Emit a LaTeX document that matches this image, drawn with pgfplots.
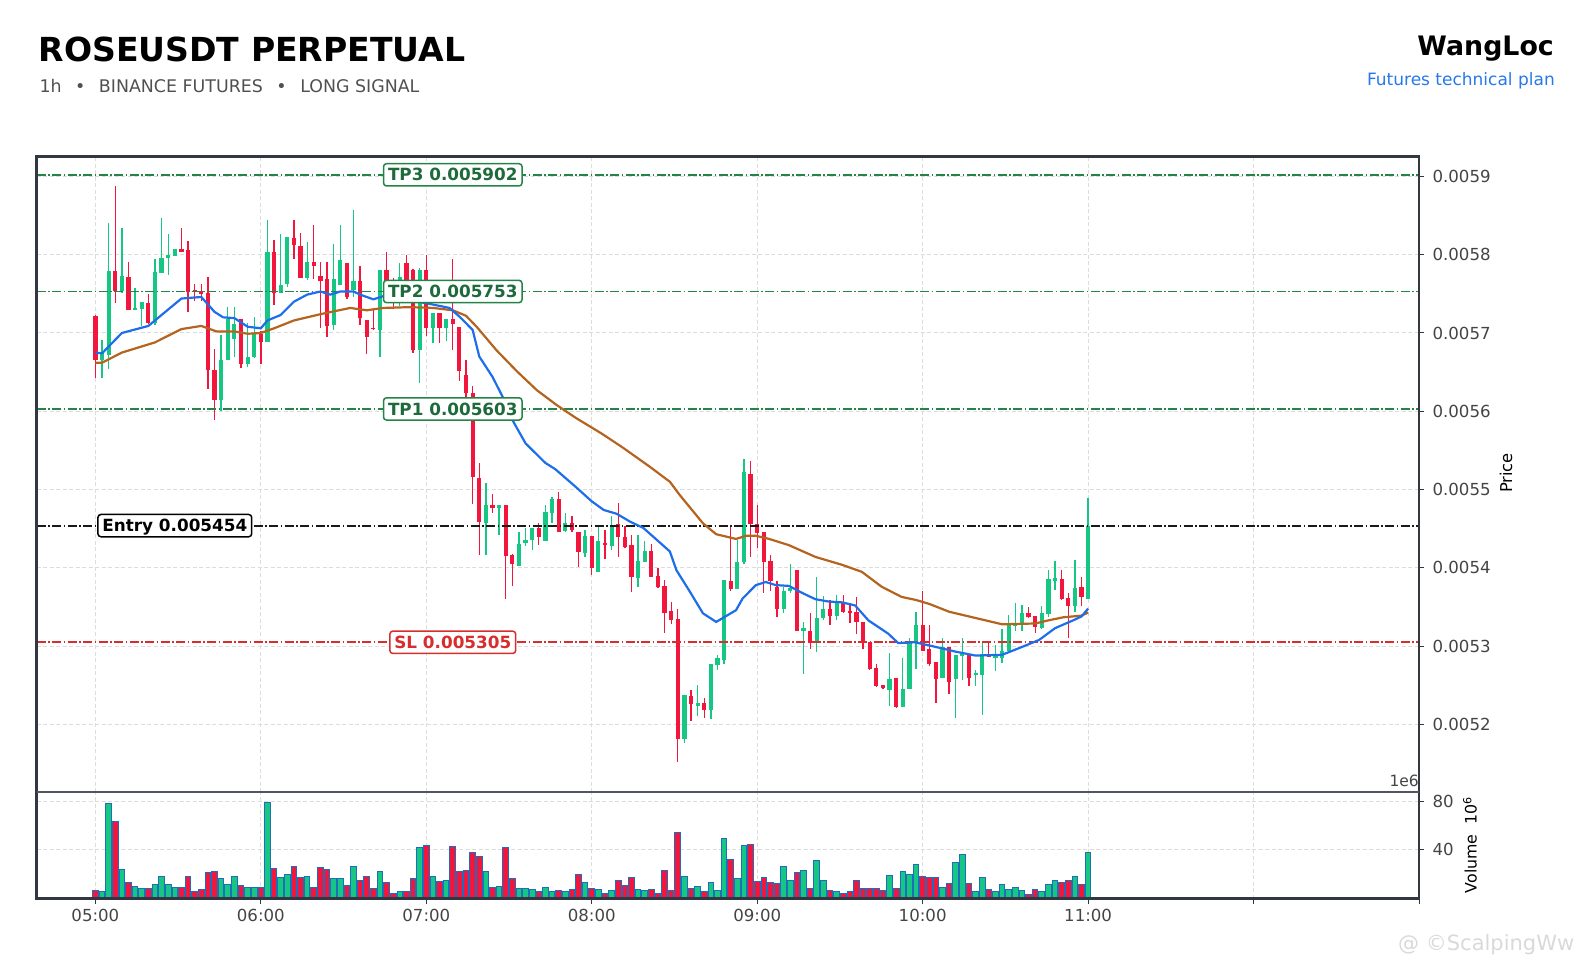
\documentclass[border=0pt]{standalone}
\usepackage{fontspec}
\setmainfont{DejaVu Sans}
\usepackage{pgfplots}
\usepackage{pgfplotstable}
\pgfplotsset{compat=1.18}
\definecolor{upc}{RGB}{22,199,132}
\definecolor{dnc}{RGB}{242,22,60}
\definecolor{voledge}{RGB}{31,110,190}
\definecolor{emaf}{RGB}{30,110,235}
\definecolor{emas}{RGB}{180,100,30}
\definecolor{tpc}{RGB}{36,132,72}
\definecolor{slc}{RGB}{215,45,45}
\definecolor{framec}{RGB}{50,55,65}
\definecolor{tickgray}{RGB}{68,68,68}
\definecolor{gridc}{RGB}{220,220,220}
\definecolor{subgray}{RGB}{80,80,80}
\definecolor{bluelink}{RGB}{38,120,235}

\pgfplotstableread{
i o h l c v up
0 0.005722 0.005723 0.005642 0.005666 6.8 0
1 0.005666 0.005691 0.005643 0.005675 5.4 1
2 0.005672 0.005840 0.005654 0.005779 78.1 1
3 0.005779 0.005888 0.005739 0.005754 63.4 0
4 0.005754 0.005834 0.005751 0.005773 24.2 1
5 0.005771 0.005791 0.005729 0.005729 12.8 0
6 0.005730 0.005757 0.005729 0.005732 9.5 1
7 0.005731 0.005740 0.005709 0.005740 7.9 1
8 0.005738 0.005750 0.005712 0.005713 7.9 0
9 0.005713 0.005795 0.005710 0.005778 11.2 1
10 0.005776 0.005847 0.005776 0.005796 17.7 1
11 0.005796 0.005827 0.005774 0.005800 11.2 1
12 0.005799 0.005807 0.005799 0.005807 8.7 1
13 0.005807 0.005834 0.005804 0.005804 8.7 0
14 0.005806 0.005818 0.005727 0.005752 17.7 0
15 0.005755 0.005762 0.005741 0.005753 5.4 0
16 0.005753 0.005762 0.005741 0.005750 7.1 0
17 0.005751 0.005771 0.005628 0.005653 21.0 0
18 0.005653 0.005679 0.005589 0.005615 22.6 0
19 0.005614 0.005698 0.005601 0.005666 16.1 1
20 0.005665 0.005733 0.005665 0.005718 11.2 1
21 0.005693 0.005733 0.005670 0.005712 17.7 1
22 0.005718 0.005718 0.005655 0.005660 10.3 0
23 0.005660 0.005713 0.005657 0.005669 8.7 1
24 0.005669 0.005721 0.005668 0.005700 8.7 1
25 0.005699 0.005702 0.005660 0.005689 8.7 0
26 0.005688 0.005844 0.005688 0.005803 78.9 1
27 0.005804 0.005819 0.005736 0.005751 25.0 0
28 0.005751 0.005827 0.005751 0.005762 16.9 1
29 0.005762 0.005823 0.005759 0.005822 20.1 1
30 0.005821 0.005845 0.005795 0.005812 26.7 0
31 0.005811 0.005828 0.005770 0.005770 16.9 0
32 0.005770 0.005816 0.005768 0.005791 18.5 1
33 0.005791 0.005838 0.005769 0.005785 8.7 0
34 0.005773 0.005791 0.005706 0.005767 25.9 0
35 0.005769 0.005791 0.005695 0.005709 24.2 0
36 0.005710 0.005814 0.005704 0.005769 16.1 1
37 0.005761 0.005838 0.005761 0.005793 16.1 1
38 0.005790 0.005790 0.005744 0.005746 10.3 0
39 0.005755 0.005857 0.005746 0.005767 26.7 1
40 0.005767 0.005786 0.005710 0.005719 15.2 0
41 0.005717 0.005717 0.005673 0.005695 17.7 0
42 0.005707 0.005731 0.005704 0.005705 7.9 0
43 0.005704 0.005781 0.005670 0.005780 21.8 1
44 0.005781 0.005803 0.005746 0.005755 12.8 0
45 0.005755 0.005770 0.005730 0.005740 3.8 0
46 0.005740 0.005790 0.005735 0.005772 5.4 1
47 0.005790 0.005800 0.005745 0.005760 5.4 0
48 0.005780 0.005782 0.005674 0.005678 16.1 0
49 0.005678 0.005783 0.005636 0.005780 42.2 1
50 0.005780 0.005800 0.005696 0.005706 43.8 0
51 0.005706 0.005725 0.005687 0.005725 17.7 1
52 0.005725 0.005725 0.005687 0.005706 13.6 0
53 0.005706 0.005718 0.005690 0.005718 15.2 1
54 0.005718 0.005795 0.005678 0.005711 43.0 0
55 0.005708 0.005708 0.005639 0.005651 21.8 0
56 0.005646 0.005666 0.005610 0.005623 23.4 0
57 0.005623 0.005632 0.005482 0.005516 38.1 0
58 0.005515 0.005534 0.005417 0.005459 34.8 0
59 0.005458 0.005509 0.005417 0.005481 21.8 1
60 0.005481 0.005495 0.005470 0.005476 8.7 0
61 0.005476 0.005480 0.005442 0.005480 9.5 1
62 0.005480 0.005480 0.005360 0.005415 42.2 0
63 0.005417 0.005418 0.005377 0.005405 16.1 0
64 0.005402 0.005446 0.005402 0.005431 7.9 1
65 0.005432 0.005451 0.005428 0.005436 7.9 1
66 0.005436 0.005451 0.005423 0.005451 7.1 1
67 0.005451 0.005458 0.005429 0.005439 5.4 0
68 0.005434 0.005480 0.005434 0.005471 8.7 1
69 0.005470 0.005491 0.005457 0.005488 5.4 1
70 0.005488 0.005497 0.005446 0.005446 6.3 0
71 0.005447 0.005470 0.005446 0.005457 5.4 1
72 0.005457 0.005466 0.005446 0.005448 7.1 0
73 0.005446 0.005446 0.005401 0.005420 20.1 0
74 0.005419 0.005449 0.005414 0.005441 12.8 1
75 0.005441 0.005441 0.005391 0.005400 8.4 0
76 0.005395 0.005455 0.005395 0.005434 7.1 1
77 0.005431 0.005449 0.005412 0.005430 4.4 0
78 0.005428 0.005466 0.005423 0.005454 6.3 1
79 0.005456 0.005483 0.005414 0.005439 15.2 0
80 0.005439 0.005454 0.005425 0.005427 10.3 0
81 0.005429 0.005442 0.005369 0.005388 16.9 0
82 0.005387 0.005442 0.005376 0.005409 7.1 1
83 0.005408 0.005434 0.005408 0.005422 6.3 1
84 0.005422 0.005431 0.005388 0.005388 7.1 0
85 0.005390 0.005400 0.005375 0.005376 4.4 0
86 0.005377 0.005385 0.005317 0.005343 23.4 0
87 0.005345 0.005357 0.005329 0.005334 6.3 0
88 0.005335 0.005347 0.005152 0.005181 54.4 0
89 0.005181 0.005238 0.005177 0.005238 17.7 1
90 0.005237 0.005244 0.005205 0.005226 8.4 0
91 0.005224 0.005251 0.005211 0.005227 9.5 1
92 0.005227 0.005234 0.005209 0.005218 5.4 0
93 0.005218 0.005277 0.005207 0.005277 12.8 1
94 0.005276 0.005289 0.005270 0.005285 6.3 1
95 0.005282 0.005385 0.005278 0.005385 49.5 1
96 0.005383 0.005455 0.005371 0.005373 32.4 0
97 0.005373 0.005436 0.005373 0.005408 16.1 1
98 0.005408 0.005539 0.005405 0.005522 43.8 1
99 0.005520 0.005537 0.005414 0.005456 44.6 0
100 0.005456 0.005480 0.005426 0.005445 13.6 0
101 0.005446 0.005446 0.005368 0.005408 16.9 0
102 0.005409 0.005417 0.005370 0.005383 12.8 0
103 0.005376 0.005383 0.005337 0.005348 12.0 0
104 0.005348 0.005376 0.005343 0.005371 26.7 1
105 0.005370 0.005405 0.005368 0.005374 15.2 1
106 0.005398 0.005398 0.005320 0.005320 21.0 0
107 0.005320 0.005331 0.005264 0.005323 23.4 1
108 0.005320 0.005343 0.005297 0.005304 7.9 0
109 0.005304 0.005389 0.005293 0.005336 31.6 1
110 0.005336 0.005364 0.005334 0.005347 14.4 1
111 0.005347 0.005359 0.005327 0.005339 6.3 0
112 0.005339 0.005366 0.005334 0.005355 5.4 1
113 0.005355 0.005366 0.005342 0.005344 4.4 0
114 0.005345 0.005355 0.005330 0.005343 5.4 0
115 0.005344 0.005363 0.005316 0.005331 14.4 0
116 0.005331 0.005331 0.005296 0.005305 7.9 0
117 0.005306 0.005306 0.005269 0.005271 7.9 0
118 0.005272 0.005278 0.005248 0.005249 7.9 0
119 0.005250 0.005250 0.005245 0.005246 6.3 0
120 0.005244 0.005292 0.005224 0.005258 19.3 1
121 0.005260 0.005260 0.005221 0.005223 7.9 0
122 0.005223 0.005285 0.005222 0.005246 21.8 1
123 0.005245 0.005311 0.005245 0.005306 20.1 1
124 0.005306 0.005344 0.005271 0.005327 28.3 1
125 0.005327 0.005370 0.005294 0.005294 17.7 0
126 0.005296 0.005327 0.005275 0.005277 16.9 0
127 0.005280 0.005280 0.005227 0.005258 16.9 0
128 0.005260 0.005310 0.005260 0.005299 8.7 1
129 0.005299 0.005299 0.005239 0.005254 12.0 0
130 0.005258 0.005289 0.005209 0.005289 29.9 1
131 0.005288 0.005311 0.005257 0.005293 36.5 1
132 0.005289 0.005289 0.005249 0.005260 12.0 0
133 0.005263 0.005270 0.005249 0.005266 5.4 1
134 0.005263 0.005307 0.005212 0.005290 16.9 1
135 0.005288 0.005304 0.005286 0.005286 7.1 0
136 0.005285 0.005302 0.005268 0.005288 5.4 1
137 0.005285 0.005322 0.005279 0.005294 11.2 1
138 0.005294 0.005340 0.005294 0.005327 7.1 1
139 0.005326 0.005355 0.005320 0.005329 8.7 1
140 0.005329 0.005352 0.005320 0.005343 6.3 1
141 0.005343 0.005350 0.005336 0.005337 3.0 0
142 0.005339 0.005339 0.005317 0.005324 7.1 0
143 0.005323 0.005351 0.005322 0.005342 5.4 1
144 0.005341 0.005397 0.005338 0.005386 11.2 1
145 0.005383 0.005409 0.005372 0.005387 15.2 1
146 0.005386 0.005397 0.005359 0.005361 12.8 0
147 0.005362 0.005368 0.005310 0.005351 15.2 0
148 0.005351 0.005410 0.005344 0.005375 18.5 1
149 0.005375 0.005388 0.005351 0.005363 11.2 0
150 0.005361 0.005490 0.005361 0.005454 38.1 1
}\candles

\tikzset{
  tlfont/.style={font=\fontsize{16.6}{19}\selectfont, text=tickgray},
  levelstyle/.style={line width=1.8pt, dash pattern=on 9pt off 2.5pt on 1.5pt off 2.5pt},
  lvlbox/.style={fill=white, line width=1.5pt, rounded corners=3pt,
     font=\fontsize{16.8}{20}\selectfont\bfseries, inner xsep=4.5pt, inner ysep=5pt,
     text height=12.3pt, text depth=0pt},
  nomark/.style={only marks, mark=*, mark size=0pt, mark options={draw opacity=0, fill opacity=0}},
}

\begin{document}
\begin{tikzpicture}[x=1pt,y=1pt]
\path[use as bounding box] (0,0) rectangle (1590,962);

\node[anchor=base west, inner sep=0pt, font=\fontsize{33.1}{40}\selectfont\bfseries] at (38.5,900.3) {ROSEUSDT PERPETUAL};
\node[anchor=base west, inner sep=0pt, text=subgray, font=\fontsize{17.4}{20}\selectfont] at (39.3,869.3) {1h\hspace{0.78em}•\hspace{0.78em}BINANCE FUTURES\hspace{0.78em}•\hspace{0.78em}LONG SIGNAL};
\node[anchor=base east, inner sep=0pt, font=\fontsize{26.8}{30}\selectfont\bfseries] at (1554,906.3) {WangLoc};
\node[anchor=base east, inner sep=0pt, text=bluelink, font=\fontsize{17}{20}\selectfont] at (1555,876.3) {Futures technical plan};

% ---------------- price axis ----------------
\begin{axis}[
  at={(36.5pt,170pt)}, anchor=south west, scale only axis,
  width=1382.5pt, height=635.5pt,
  xmin=-8.9, xmax=200, ymin=0.0051138, ymax=0.0059254,
  axis line style={draw=none},
  xtick={0,25,...,200}, xticklabels=\empty, xtick style={draw=none},
  ytick={0.0052,0.0053,0.0054,0.0055,0.0056,0.0057,0.0058,0.0059},
  ytick pos=right, yticklabel pos=right,
  tick align=outside, major tick length=5pt,
  ytick style={line width=1pt, draw=framec},
  scaled y ticks=false,
  yticklabel style={/pgf/number format/fixed, /pgf/number format/precision=4, /pgf/number format/fixed zerofill, tlfont, xshift=5pt},
  /pgf/number format/assume math mode=true,
  grid=major, major grid style={draw=gridc, dash pattern=on 4pt off 2.5pt, line width=1pt},
]
% wicks
\addplot[nomark, restrict expr to domain={\thisrow{up}}{0.5:1.5},
  error bars/.cd, y dir=both, y explicit, error mark=none,
  error bar style={draw=upc, line width=1.3pt}]
  table[x=i, y expr={(\thisrow{h}+\thisrow{l})/2}, y error expr={(\thisrow{h}-\thisrow{l})/2}] {\candles};
\addplot[nomark, restrict expr to domain={\thisrow{up}}{-0.5:0.5},
  error bars/.cd, y dir=both, y explicit, error mark=none,
  error bar style={draw=dnc, line width=1.3pt}]
  table[x=i, y expr={(\thisrow{h}+\thisrow{l})/2}, y error expr={(\thisrow{h}-\thisrow{l})/2}] {\candles};
% bodies
\addplot[nomark, restrict expr to domain={\thisrow{up}}{0.5:1.5},
  error bars/.cd, y dir=both, y explicit, error mark=none,
  error bar style={draw=upc, line width=4.2pt}]
  table[x=i, y expr={(\thisrow{o}+\thisrow{c})/2}, y error expr={max(abs(\thisrow{c}-\thisrow{o})/2,0.0000007)}] {\candles};
\addplot[nomark, restrict expr to domain={\thisrow{up}}{-0.5:0.5},
  error bars/.cd, y dir=both, y explicit, error mark=none,
  error bar style={draw=dnc, line width=4.2pt}]
  table[x=i, y expr={(\thisrow{o}+\thisrow{c})/2}, y error expr={max(abs(\thisrow{c}-\thisrow{o})/2,0.0000007)}] {\candles};

% levels
\addplot[draw=tpc, no marks, levelstyle] coordinates {(-8.9,0.005902) (200,0.005902)};
\addplot[draw=tpc, no marks, levelstyle] coordinates {(-8.9,0.005753) (200,0.005753)};
\addplot[draw=tpc, no marks, levelstyle] coordinates {(-8.9,0.005603) (200,0.005603)};
\addplot[draw=black!90, no marks, levelstyle] coordinates {(-8.9,0.005454) (200,0.005454)};
\addplot[draw=slc, no marks, levelstyle] coordinates {(-8.9,0.005305) (200,0.005305)};

% moving averages
\addplot[emas, no marks, line width=2.2pt] coordinates {
(0,0.005662) (1,0.005662) (4,0.005675) (9,0.005688) (13,0.005705) (16,0.005709)
(18.3,0.005702) (21,0.005702) (23,0.005699) (25,0.005700) (27,0.005706) (30,0.005716)
(34,0.005724) (38.5,0.005732) (41,0.005729) (43.5,0.005732) (47.5,0.005733) (51,0.005732)
(54,0.005729) (56,0.005722) (57.6,0.005708) (60.6,0.005678) (63.7,0.005651) (66.7,0.005627)
(69.7,0.005608) (72.7,0.005591) (76.6,0.005571) (79.8,0.005553) (83.8,0.005529) (86.8,0.005510)
(88.3,0.005493) (91.8,0.005457) (93.8,0.005443) (96.8,0.005437) (98.3,0.005441) (99.8,0.005441)
(101.8,0.005437) (104.8,0.005429) (108.8,0.005414) (112.8,0.005404) (115.8,0.005395) (118.8,0.005376)
(121.8,0.005363) (124,0.005359) (126,0.005354) (129,0.005344) (133,0.005336) (137,0.005328)
(142,0.005329) (144,0.005333) (146.3,0.005337) (149,0.005339) (150,0.005343)};
\addplot[emaf, no marks, line width=2.2pt] coordinates {
(0,0.005675) (1,0.005674) (4,0.005700) (8,0.005709) (13,0.005744) (16,0.005746)
(18,0.005727) (19.3,0.005720) (21,0.005719) (23,0.005708) (25,0.005706) (26,0.005716)
(28,0.005723) (30,0.005740) (32,0.005749) (34,0.005753) (35.5,0.005749) (37,0.005753)
(39,0.005753) (40,0.005749) (42,0.005743) (43.5,0.005747) (47.6,0.005742) (50.6,0.005737)
(53.5,0.005732) (55,0.005721) (57,0.005704) (58,0.005670) (60,0.005644) (61.5,0.005619)
(63,0.005589) (65,0.005559) (68,0.005534) (69.5,0.005526) (72.5,0.005504) (75,0.005485)
(76.8,0.005474) (78.8,0.005469) (80.8,0.005459) (82.8,0.005451) (84.8,0.005436) (86.8,0.005421)
(87.8,0.005397) (89.8,0.005370) (91.8,0.005342) (93.8,0.005331) (96.8,0.005346) (97.8,0.005361)
(99.8,0.005378) (101.3,0.005382) (102.8,0.005378) (104.8,0.005377) (106.8,0.005368) (108.8,0.005360)
(110.8,0.005357) (112.8,0.005356) (114.8,0.005352) (116.8,0.005333) (119.8,0.005316) (121.3,0.005304)
(123.8,0.005305) (126.5,0.005300) (130,0.005293) (133,0.005288) (137,0.005289) (140,0.005299)
(142.6,0.005308) (145,0.005323) (148,0.005334) (149,0.005338) (150,0.005348)};

% level labels
\node[lvlbox, draw=tpc, text=tpc!80!black] at (axis cs:54,0.005902) {TP3 0.005902};
\node[lvlbox, draw=tpc, text=tpc!80!black] at (axis cs:54,0.005753) {TP2 0.005753};
\node[lvlbox, draw=tpc, text=tpc!80!black] at (axis cs:54,0.005603) {TP1 0.005603};
\node[lvlbox, draw=black, text=black] at (axis cs:12,0.005454) {Entry 0.005454};
\node[lvlbox, draw=slc, text=slc] at (axis cs:54,0.005305) {SL 0.005305};
\end{axis}

% ---------------- volume axis ----------------
\begin{axis}[
  at={(36.5pt,63.5pt)}, anchor=south west, scale only axis,
  width=1382.5pt, height=106.5pt,
  xmin=-8.9, xmax=200, ymin=0, ymax=87.6,
  axis line style={draw=none},
  xtick={0,25,...,200},
  xticklabels={05:00,06:00,07:00,08:00,09:00,10:00,11:00,{},{}},
  xtick pos=bottom,
  ytick={40,80}, ytick pos=right, yticklabel pos=right,
  tick align=outside, major tick length=5pt,
  tick style={line width=1pt, draw=framec},
  xticklabel style={tlfont, yshift=-2pt}, yticklabel style={tlfont, xshift=5pt},
  /pgf/number format/assume math mode=true,
  grid=major, major grid style={draw=gridc, dash pattern=on 4pt off 2.5pt, line width=1pt},
]
\addplot[ybar, bar width=0.85, bar shift=0pt, fill=upc, draw=voledge, line width=1pt,
  restrict expr to domain={\thisrow{up}}{0.5:1.5}] table[x=i, y=v] {\candles};
\addplot[ybar, bar width=0.85, bar shift=0pt, fill=dnc, draw=voledge, line width=1pt,
  restrict expr to domain={\thisrow{up}}{-0.5:0.5}] table[x=i, y=v] {\candles};
\end{axis}

% frame
\draw[framec, line width=2.5pt] (36.5,63.5) rectangle (1419,805.5);
\draw[framec!85, line width=1.5pt] (36.5,170) -- (1419,170);

% axis texts
\node[rotate=90, inner sep=0pt, font=\fontsize{16.3}{19}\selectfont] at (1506,489) {Price};
\node[rotate=90, inner sep=0pt, font=\fontsize{15.8}{19}\selectfont] at (1470,117) {Volume\ \ 10\textsuperscript{6}};
\node[anchor=base east, inner sep=0pt, text=tickgray, font=\fontsize{15.5}{18}\selectfont] at (1419,175.3) {1e6};
\node[anchor=base west, inner sep=0pt, text=black!15, font=\fontsize{21}{24}\selectfont] at (1398,12) {@ \copyright ScalpingWw};
\end{tikzpicture}
\end{document}
